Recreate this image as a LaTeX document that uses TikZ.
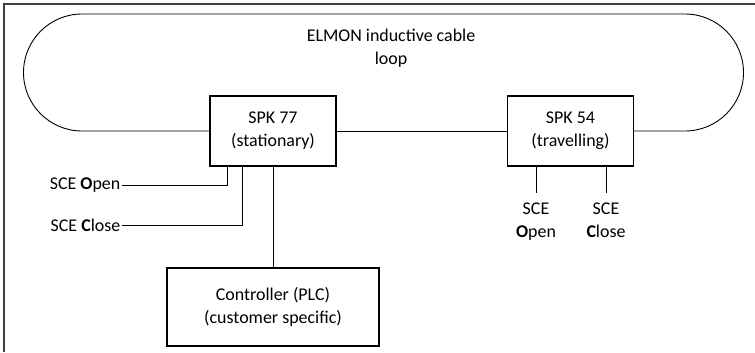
\documentclass[tikz,border=0pt]{standalone}
\usepackage{fontspec}
\setmainfont{Carlito}
\usetikzlibrary{positioning}
\tikzset{
  unitbox/.style={rectangle, draw, line width=1.1bp, minimum width=126bp, minimum height=70bp, align=center},
  sigtext/.style={align=center, inner sep=1.5bp},
  cable/.style={line width=0.9bp},
  frameline/.style={line width=1.6bp, black!75},
}

\begin{document}
\begin{tikzpicture}[x=1bp, y=1bp, font=\fontsize{18}{23}\selectfont]
  \useasboundingbox (0,0) rectangle (755,352);

  % Frame
  \draw[frameline] (4,0) -- (4,348) -- (755,348);

  % Units
  \node[unitbox] (spk77) at (273,221) {SPK 77\\(stationary)};
  \node[unitbox] (spk54) at (570.5,221) {SPK 54\\(travelling)};
  \node[unitbox, minimum width=212bp, minimum height=78bp] (ctrl) at (273,45) {Controller (PLC)\\(customer specific)};
  \node[align=center] (looplabel) at (391,303.5) {ELMON inductive cable\\loop};

  % Cable loop
  \coordinate (loopR) at (685,221);
  \coordinate (loopTL) at (82,338);
  \draw[cable] (spk77.east) -- (spk54.west);
  \draw[cable] (spk54.east) -- (loopR) arc[start angle=-90, end angle=90, radius=58.5] -- (loopTL) arc[start angle=90, end angle=270, radius=58.5] -- (spk77.west);

  % SPK 77 signals
  \node[sigtext, anchor=east] (open77) at (122,167) {SCE \textbf{O}pen};
  \node[sigtext, anchor=east] (close77) at (122,127) {SCE \textbf{C}lose};
  \draw[cable] (open77) -| ([xshift=-46bp]spk77.south);
  \draw[cable] (close77) -| ([xshift=-31bp]spk77.south);
  \draw[cable] (spk77) -- (ctrl);

  % SPK 54 signals
  \coordinate (o54) at (536,159);
  \coordinate (c54) at (606,159);
  \draw[cable] (spk54.south -| o54) -- (o54);
  \draw[cable] (spk54.south -| c54) -- (c54);
  \node[sigtext, below=8bp of o54] (open54) {SCE\\\textbf{O}pen};
  \node[sigtext, below=8bp of c54] (close54) {SCE\\\textbf{C}lose};
\end{tikzpicture}
\end{document}
